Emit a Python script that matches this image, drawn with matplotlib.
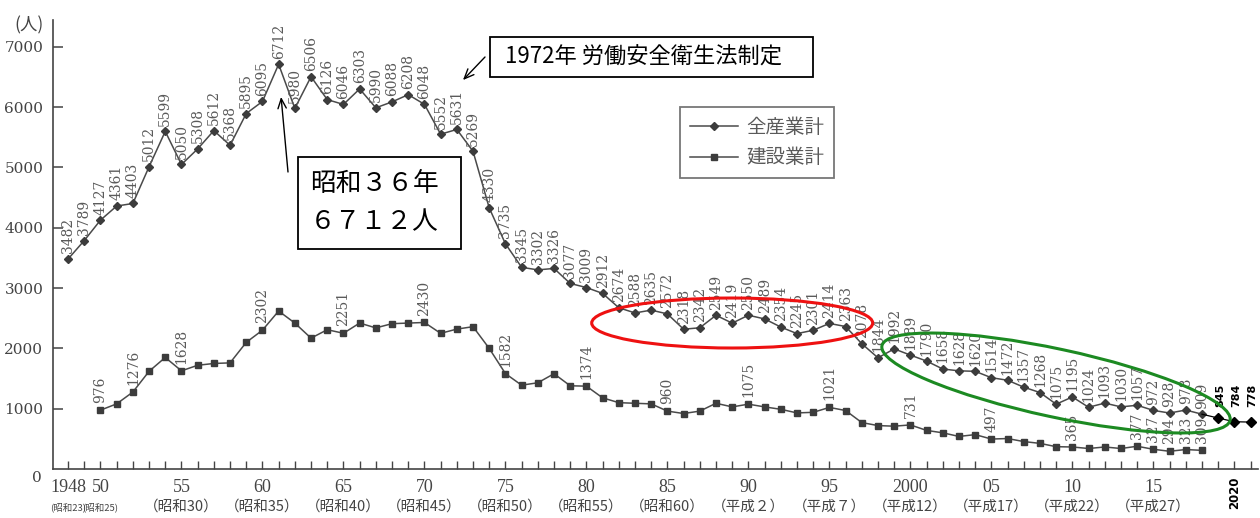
import matplotlib
matplotlib.use("Agg")
import matplotlib.pyplot as plt
from matplotlib import patches, transforms

W, H = 1260, 518

# 全産業 死亡者数 (1948-2018)
years_all = list(range(1948, 2019))
deaths_all = [3482, 3789, 4127, 4361, 4403, 5012, 5599, 5050, 5308, 5612,
              5368, 5895, 6095, 6712, 5980, 6506, 6126, 6046, 6303, 5990,
              6088, 6208, 6048, 5552, 5631, 5269, 4330, 3735, 3345, 3302,
              3326, 3077, 3009, 2912, 2674, 2588, 2635, 2572, 2318, 2342,
              2549, 2419, 2550, 2489, 2354, 2245, 2301, 2414, 2363, 2078,
              1844, 1992, 1889, 1790, 1658, 1628, 1620, 1514, 1472, 1357,
              1268, 1075, 1195, 1024, 1093, 1030, 1057, 972, 928, 978, 909]

# 追記分
years_new = [2019, 2020, 2021]
deaths_new = [845, 784, 778]

# 建設業 死亡者数 (1950-2018)
years_cons = list(range(1950, 2019))
deaths_cons = [976, 1080, 1276, 1620, 1850, 1628, 1720, 1750, 1760, 2100,
               2302, 2620, 2420, 2170, 2310, 2251, 2420, 2340, 2410, 2420,
               2430, 2250, 2320, 2360, 2000, 1582, 1390, 1430, 1580, 1380,
               1374, 1180, 1100, 1090, 1080, 960, 920, 960, 1090, 1030,
               1075, 1030, 990, 930, 940, 1021, 970, 770, 720, 710,
               731, 640, 600, 540, 570, 497, 505, 455, 425, 370,
               365, 340, 365, 340, 377, 327, 294, 323, 309]
cons_label_years = [1950, 1952, 1955, 1960, 1965, 1970, 1975, 1980, 1985,
                    1990, 1995, 2000, 2005, 2010, 2014, 2015, 2016, 2017, 2018]

tick_years = [1948, 1950, 1955, 1960, 1965, 1970, 1975, 1980, 1985,
              1990, 1995, 2000, 2005, 2010, 2015]
tick_top = ["1948", "50", "55", "60", "65", "70", "75", "80", "85",
            "90", "95", "2000", "05", "10", "15"]
tick_era = ["(昭和23)", "(昭和25)", "（昭和30）", "（昭和35）", "（昭和40）",
            "（昭和45）", "（昭和50）", "（昭和55）", "（昭和60）", "（平成２）",
            "（平成７）", "（平成12）", "（平成17）", "（平成22）", "（平成27）"]

JP = ["Noto Sans CJK JP", "DejaVu Sans"]
line_c = "#4a4a4a"
txt_c = "#5a5a5a"
axis_c = "#444444"

fig = plt.figure(figsize=(W / 100, H / 100), dpi=100)
fig.patch.set_facecolor("white")
ax = fig.add_axes([53 / W, 1 - 469 / H, (1258 - 53) / W, (469 - 20) / H])
ax.set_xlim(1947.07, 2021.46)
ax.set_ylim(0, 7446)


def fpx(x, y):
    return (x / W, 1 - y / H)


l_all, = ax.plot(years_all, deaths_all, color=line_c, lw=1.1, marker="D", ms=4.3,
                 mfc="#3c3c3c", mec="#3c3c3c", label="全産業計", zorder=3)
l_con, = ax.plot(years_cons, deaths_cons, color=line_c, lw=1.1, marker="s", ms=4.3,
                 mfc="#3c3c3c", mec="#3c3c3c", label="建設業計", zorder=3)
ax.plot([years_all[-1]] + years_new, [deaths_all[-1]] + deaths_new, color="black",
        lw=0.9, marker="D", ms=5, markevery=[1, 2, 3], zorder=3)

for x, v in zip(years_all, deaths_all):
    ax.annotate(str(v), (x, v), xytext=(0, 4), textcoords="offset points",
                rotation=90, ha="center", va="bottom", fontsize=10,
                family="DejaVu Serif", color=txt_c)
for x, v in zip(years_cons, deaths_cons):
    if x in cons_label_years:
        ax.annotate(str(v), (x, v), xytext=(0, 5), textcoords="offset points",
                    rotation=90, ha="center", va="bottom", fontsize=10,
                    family="DejaVu Serif", color=txt_c)
for x, v in zip(years_new, deaths_new):
    ax.text(x + 0.12, 1030, str(v), rotation=90, ha="center", va="bottom",
            fontsize=8, fontweight="bold", family="DejaVu Sans", color="black")

# axes
for s in ("top", "right"):
    ax.spines[s].set_visible(False)
for s in ("left", "bottom"):
    ax.spines[s].set_color(axis_c)
    ax.spines[s].set_linewidth(1.2)
ax.set_yticks(range(1000, 8000, 1000))
ax.tick_params(axis="y", direction="in", length=7, width=1.1, colors=axis_c,
               labelsize=11, pad=7)
for t in ax.get_yticklabels():
    t.set_family("DejaVu Serif")
ax.set_xticks(range(1948, 2022))
ax.set_xticklabels([])
ax.tick_params(axis="x", direction="in", length=6, width=1, color=axis_c)

xt = ax.get_xaxis_transform()
for i, (yr, top, era) in enumerate(zip(tick_years, tick_top, tick_era)):
    ax.text(yr, -18 / 449, top, transform=xt, ha="center", va="center",
            fontsize=13, family="Liberation Serif", color=axis_c)
    ax.text(yr, -38 / 449, era, transform=xt, ha="center", va="center",
            fontsize=6.8 if i < 2 else 10.5, family=JP, color=axis_c)
ax.text(2020, -24 / 449, "2020", transform=xt, rotation=90, ha="center",
        va="center", fontsize=8.5, fontweight="bold", family="DejaVu Sans",
        color="black")

fig.text(*fpx(37, 478), "0", ha="center", va="center", fontsize=11,
         family="DejaVu Serif", color=axis_c)
fig.text(*fpx(29, 25), "(人)", ha="center", va="center", fontsize=12.5,
         family=JP, color=axis_c)

# legend
leg = ax.legend(handles=[l_all, l_con], loc="upper left",
                bbox_to_anchor=fpx(680, 107), bbox_transform=fig.transFigure,
                prop={"family": JP, "size": 14}, handlelength=2.5,
                handletextpad=0.4, borderpad=0.5, labelspacing=0.5,
                borderaxespad=0, frameon=True, fancybox=False,
                edgecolor="#777777", framealpha=1)
leg.get_frame().set_linewidth(1.3)
for t in leg.get_texts():
    t.set_color(txt_c)

# callout boxes
fig.patches.append(patches.Rectangle(fpx(298, 249), 163 / W, 92 / H,
                                     transform=fig.transFigure, facecolor="white",
                                     edgecolor="black", lw=1.3))
fig.text(*fpx(310, 184), "昭和３６年", ha="left", va="center", fontsize=18.5,
         family=JP, color="black")
fig.text(*fpx(310, 222), "６７１２人", ha="left", va="center", fontsize=18.5,
         family=JP, color="black")
fig.patches.append(patches.Rectangle(fpx(490, 77), 323 / W, 40 / H,
                                     transform=fig.transFigure, facecolor="white",
                                     edgecolor="black", lw=1.3))
fig.text(*fpx(505, 57), "1972年 労働安全衛生法制定", ha="left", va="center",
         fontsize=16, family=JP, color="black")

arrow = dict(arrowstyle="->,head_length=0.7,head_width=0.3", color="black",
             lw=1.0, shrinkA=0, shrinkB=0)
ax.annotate("", xy=(1961.15, 6170), xycoords="data", xytext=fpx(288, 172),
            textcoords="figure fraction", arrowprops=arrow, annotation_clip=False)
ax.annotate("", xy=(1972.38, 6450), xycoords="data", xytext=fpx(485, 57),
            textcoords="figure fraction", arrowprops=arrow, annotation_clip=False)


# highlight rings, sized in pixels around a data point
def ring(year, value, w, h, angle, color):
    tr = transforms.Affine2D() + transforms.ScaledTranslation(year, value, ax.transData)
    ax.add_patch(patches.Ellipse((0, 0), w, h, angle=angle, transform=tr,
                                 fill=False, edgecolor=color, lw=2.2,
                                 zorder=5, clip_on=False))


ring(1989.0, 2421, 281, 50, 0, "#ee1111")
ring(2008.99, 1426, 356, 68, -12.1, "#1c8a22")

fig.savefig("out.png", dpi=100)
